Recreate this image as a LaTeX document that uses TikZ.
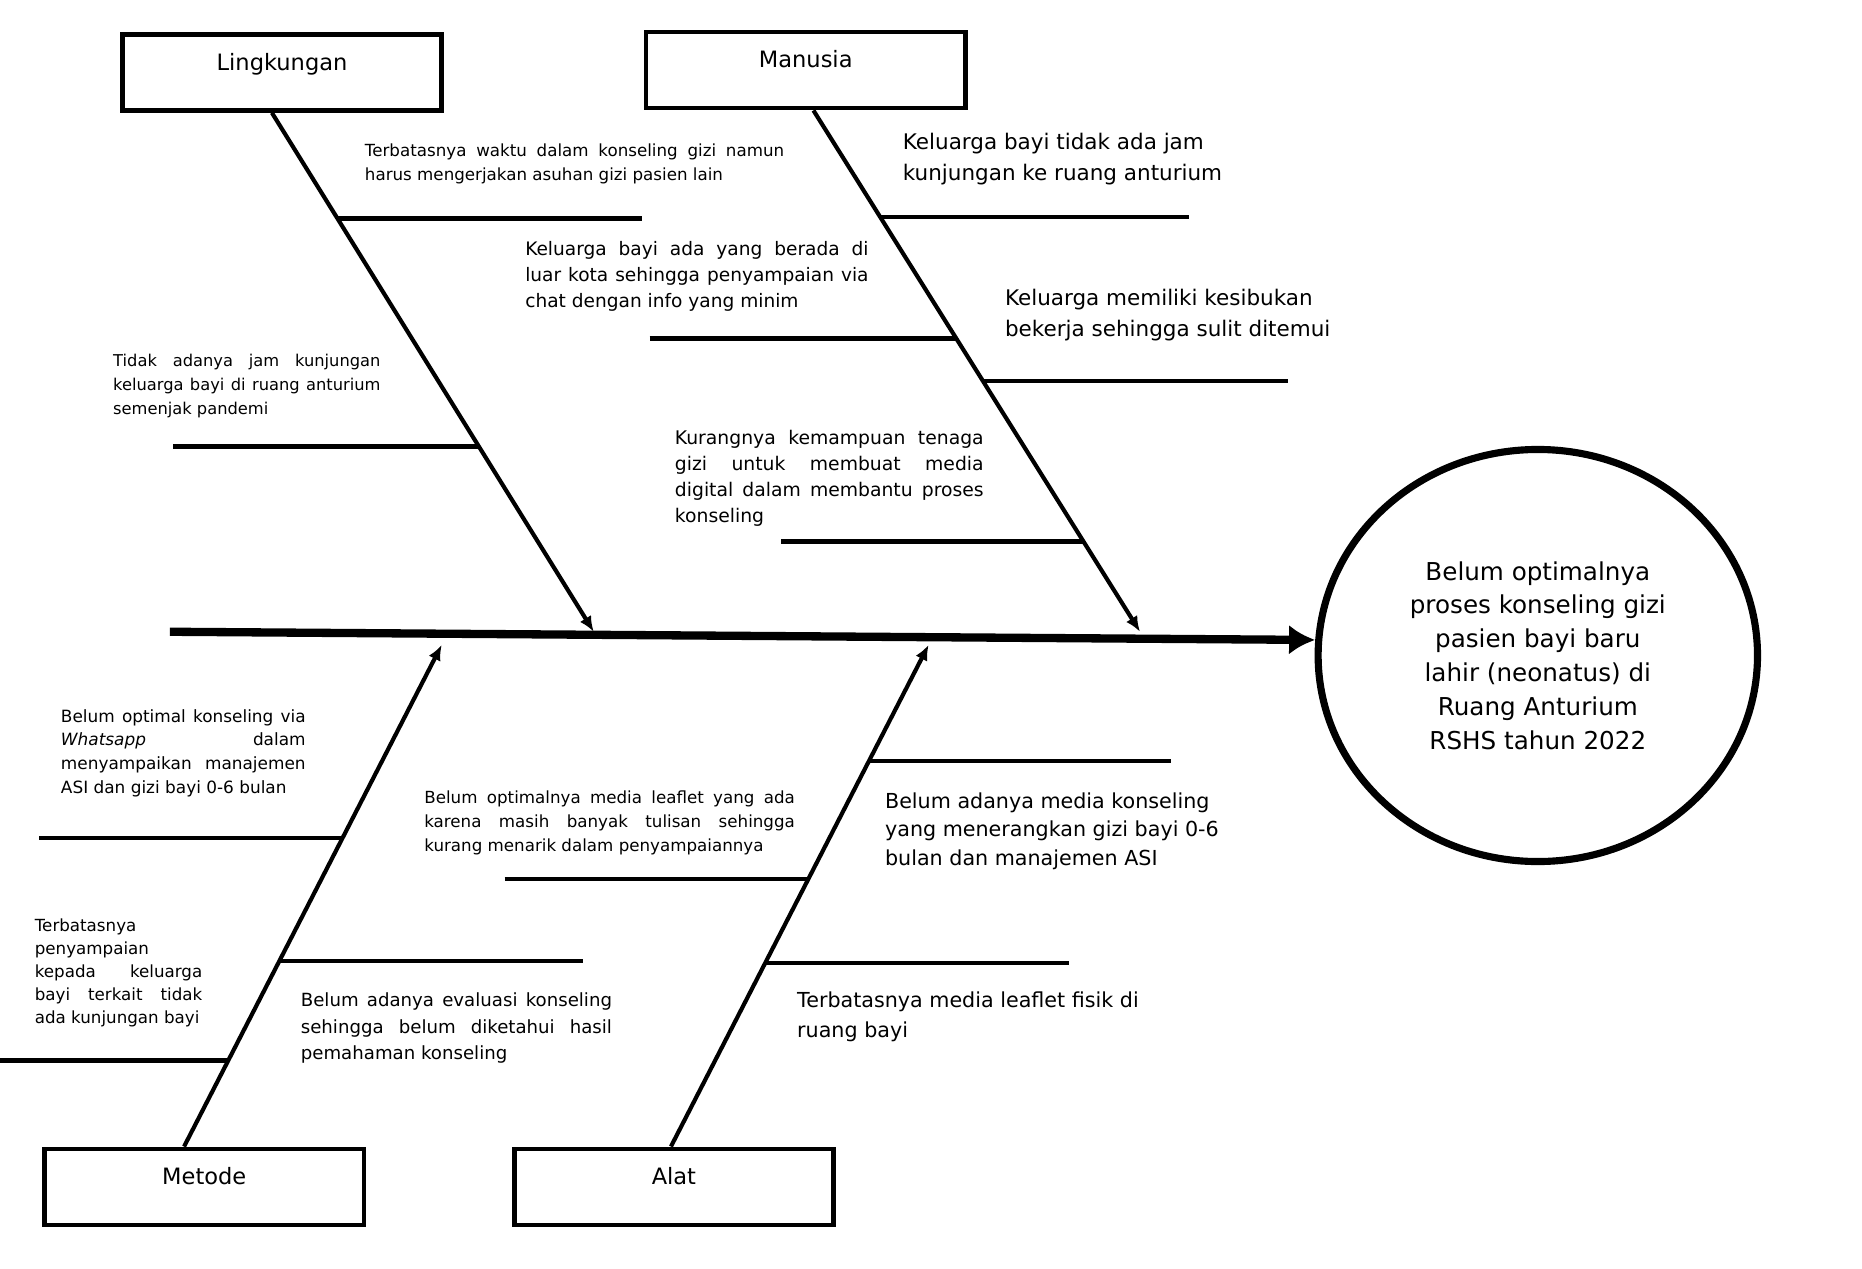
\documentclass[tikz,border=0pt]{standalone}
\usepackage{fontspec}
\setmainfont{DejaVu Sans}
\usepackage{tikz}
\usetikzlibrary{arrows.meta,shapes.geometric}
\tolerance=9999 \hbadness=10000

\begin{document}
\begin{tikzpicture}[x=0.2mm, y=-0.2mm,
  catbox/.style={draw, line width=0.8mm, minimum width=53.8mm, minimum height=12.8mm, inner sep=0pt,
    font=\fontsize{10.8}{13}\selectfont, text depth=3.6mm},
  bone/.style={line width=0.7mm, -{Latex[length=2.6mm,width=2.2mm]}},
  rib/.style={line width=0.7mm},
  cause/.style={anchor=north west, inner sep=0pt, align=justify},
  note/.style={anchor=north west, inner sep=0pt, align=left}]
\useasboundingbox (0,0) rectangle (1568,1068);

% categories
\node[catbox] (ling) at (237.5,61) {Lingkungan};
\node[catbox] (man) at (678.5,59) {Manusia};
\node[catbox] (met) at (172,999.5) {Metode};
\node[catbox] (alat) at (567.5,999.5) {Alat};

% effect
\node[draw, ellipse, line width=1.2mm, minimum width=74mm, minimum height=69.4mm, inner sep=0pt,
  align=center, font=\fontsize{11.8}{16.2}\selectfont] (akibat) at (1295,552)
  {Belum optimalnya\\proses konseling gizi\\pasien bayi baru\\lahir (neonatus) di\\Ruang Anturium\\RSHS tahun 2022};

% spine and bones
\coordinate (s0) at (143,532);
\coordinate (p1) at (500,532);
\coordinate (p2) at (960,532);
\coordinate (p3) at (372,543);
\coordinate (p4) at (782,543);
\draw[line width=1.4mm, -{Latex[length=4.4mm,width=5mm]}] (s0) -- (akibat.176);
\draw[bone] ([xshift=-1.7mm]ling.south) -- (p1);
\draw[bone] ([xshift=1.3mm]man.south) -- (p2);
\draw[bone] ([xshift=-3.4mm]met.north) -- (p3);
\draw[bone] ([xshift=-0.5mm]alat.north) -- (p4);

% ribs
\draw[rib] (285,184) -- (541,184);
\draw[rib] (547,285) -- (806,285);
\draw[rib] (146,376) -- (404,376);
\draw[rib] (742,183) -- (1001,183);
\draw[rib] (828,321) -- (1085,321);
\draw[rib] (658,456) -- (913,456);
\draw[rib] (33,706) -- (289,706);
\draw[rib] (236,809) -- (491,809);
\draw[rib] (0,893) -- (193,893);
\draw[rib] (425,740) -- (681,740);
\draw[rib] (732,641) -- (986,641);
\draw[rib] (645,811) -- (900,811);

% causes
\node[cause, text width=70.6mm, font=\fontsize{8}{11.4}\selectfont] (c1) at (307,121)
  {Terbatasnya waktu dalam konseling gizi namun\linebreak harus mengerjakan asuhan gizi pasien lain};
\node[cause, text width=57.8mm, font=\fontsize{8.9}{12.5}\selectfont] (c2) at (442,203)
  {Keluarga bayi ada yang berada di\linebreak luar kota sehingga penyampaian via\linebreak chat dengan info yang minim};
\node[cause, text width=45mm, font=\fontsize{7.8}{11.4}\selectfont] (c3) at (95,298)
  {Tidak adanya jam kunjungan\linebreak keluarga bayi di ruang anturium\linebreak semenjak pandemi};
\node[note, font=\fontsize{10.3}{14.8}\selectfont] (c4) at (760,112)
  {Keluarga bayi tidak ada jam\\kunjungan ke ruang anturium};
\node[note, font=\fontsize{10.3}{14.8}\selectfont] (c5) at (846,243)
  {Keluarga memiliki kesibukan\\bekerja sehingga sulit ditemui};
\node[cause, text width=52mm, font=\fontsize{9}{12.5}\selectfont] (c6) at (568,362)
  {Kurangnya kemampuan tenaga\linebreak gizi untuk membuat media\linebreak digital dalam membantu proses\linebreak konseling};
\node[cause, text width=41.2mm, font=\fontsize{8.1}{11.4}\selectfont] (c7) at (51,597)
  {Belum optimal konseling via\linebreak \textit{Whatsapp} dalam\linebreak menyampaikan manajemen\linebreak ASI dan gizi bayi 0-6 bulan};
\node[cause, text width=28.2mm, font=\fontsize{8}{11.1}\selectfont] (c8) at (29,773)
  {Terbatasnya\newline penyampaian\newline kepada keluarga\linebreak bayi terkait tidak\linebreak ada kunjungan bayi};
\node[cause, text width=52.4mm, font=\fontsize{8.7}{12.5}\selectfont] (c9) at (253,836)
  {Belum adanya evaluasi konseling\linebreak sehingga belum diketahui hasil\linebreak pemahaman konseling};
\node[cause, text width=62.4mm, font=\fontsize{8}{11.4}\selectfont] (c10) at (357,666)
  {Belum optimalnya media leaflet yang ada\linebreak karena masih banyak tulisan sehingga\linebreak kurang menarik dalam penyampaiannya};
\node[note, font=\fontsize{9.9}{13.7}\selectfont] (c11) at (745,667)
  {Belum adanya media konseling\\yang menerangkan gizi bayi 0-6\\bulan dan manajemen ASI};
\node[note, font=\fontsize{9.9}{14.2}\selectfont] (c12) at (671,835)
  {Terbatasnya media leaflet fisik di\\ruang bayi};
\end{tikzpicture}
\end{document}
